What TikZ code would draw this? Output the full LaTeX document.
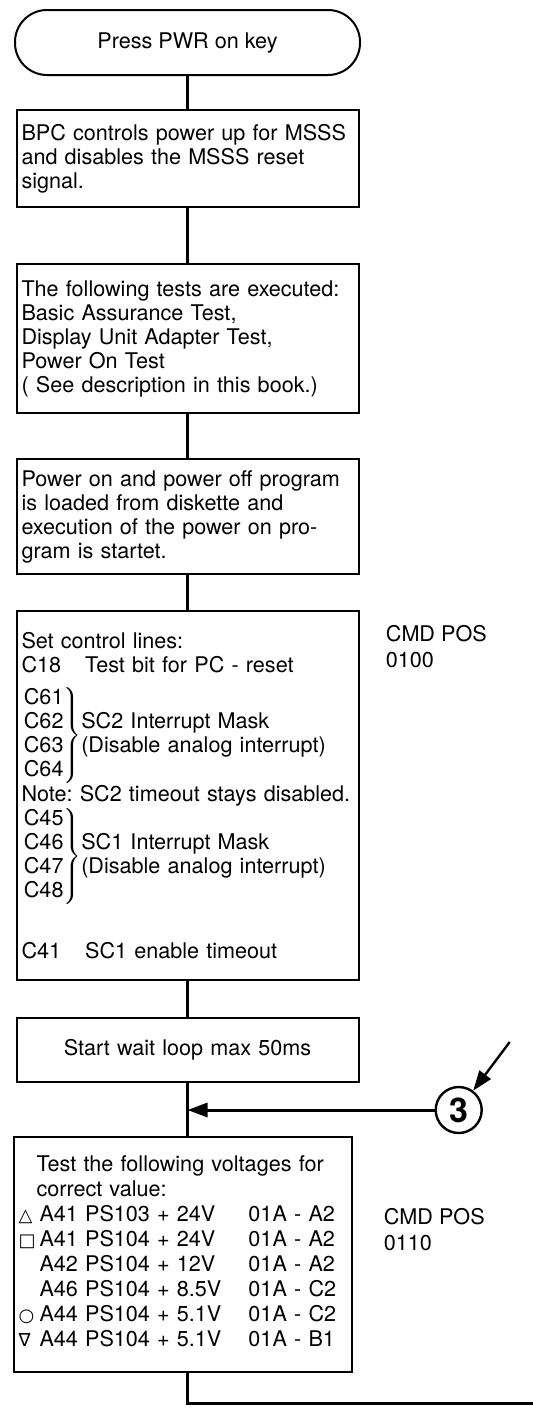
\documentclass[tikz,border=0pt]{standalone}
\usepackage{fontspec}
\setmainfont{TeX Gyre Heros}
\newfontfamily\symfont{DejaVu Sans}
\usetikzlibrary{arrows.meta,positioning,calc}
\newcommand{\sym}[1]{{\symfont\fontsize{9}{9}\selectfont #1}}
\newcommand{\ctlgroup}[2]{$\left.\begin{tabular}{@{}l@{}}#1\end{tabular}\right\}$\begin{tabular}{@{}l@{}}#2\end{tabular}}

\begin{document}
\begin{tikzpicture}[
    x=0.5pt,y=-0.5pt,
    flowbox/.style={draw,line width=1pt,text width=166pt,inner xsep=2.5pt,inner ysep=0pt,align=left,font=\fontsize{10.8}{12}\selectfont\frenchspacing},
    term/.style={draw,line width=1pt,rounded corners=16pt,minimum width=172.5pt,minimum height=32.5pt,font=\fontsize{10.8}{12}\selectfont},
    conn/.style={draw,circle,line width=1.2pt,minimum size=23pt,inner sep=0pt,font=\fontsize{17}{17}\selectfont\bfseries},
    cmdpos/.style={align=left,inner sep=0pt,font=\fontsize{10.8}{13}\selectfont},
    flow/.style={line width=1.5pt},
    arrow/.style={-{Triangle[length=10pt,width=7pt]},line width=1.5pt}
  ]
    \useasboundingbox (0,0) rectangle (533,1408);
    \node[term] (press) at (187.5,42.5) {Press PWR on key};
    \node[flowbox,minimum height=48.5pt,below=16.5pt of press] (bpc) {BPC controls power up for MSSS\\and disables the MSSS reset\\signal.};
    \node[flowbox,minimum height=74.5pt,below=27.5pt of bpc] (tests) {The following tests are executed:\\Basic Assurance Test,\\Display Unit Adapter Test,\\Power On Test\\( See description in this book.)};
    \node[flowbox,minimum height=57.5pt,below=22pt of tests] (load) {Power on and power off program\\is loaded from diskette and\\execution of the power on pro-\\gram is startet.};
    \node[flowbox,minimum height=184.5pt,below=17.5pt of load] (ctl) {Set control lines:\\
      C18\hspace{12pt}Test bit for PC - reset\\[6.5pt]
      \ctlgroup{C61\\C62\\C63\\C64}{SC2 Interrupt Mask\\(Disable analog interrupt)}\\
      \mbox{Note: SC2 timeout stays disabled.}\\
      \ctlgroup{C45\\C46\\C47\\C48}{SC1 Interrupt Mask\\(Disable analog interrupt)}\\[18pt]
      C41\hspace{12pt}SC1 enable timeout};
    \node[flowbox,minimum height=32pt,align=center,below=18pt of ctl] (wait) {Start wait loop max 50ms};
    \node[flowbox,text width=164pt,minimum height=117.5pt,below=26.5pt of wait,xshift=-2.5pt,font=\fontsize{10.8}{12.5}\selectfont] (volt) {\hspace*{9pt}Test the following voltages for\\
      \hspace*{9pt}correct value:\\
      \begin{tabular}[t]{@{}p{10.5pt}@{}p{104.5pt}@{}l@{}}
        \sym{△} & A41 PS103 + 24V & 01A - A2\\
        \sym{□} & A41 PS104 + 24V & 01A - A2\\
                & A42 PS104 + 12V & 01A - A2\\
                & A46 PS104 + 8.5V & 01A - C2\\
        \sym{○} & A44 PS104 + 5.1V & 01A - C2\\
        \sym{∇} & A44 PS104 + 5.1V & 01A - B1
      \end{tabular}};
    \node[cmdpos,anchor=north west] (pos1) at ($(ctl.north east)+(13pt,-7.5pt)$) {CMD POS\\0100};
    \node[cmdpos,anchor=north west] (pos2) at ($(volt.north east)+(15.5pt,-36pt)$) {CMD POS\\0110};
    % entry point 3 joins above the voltage test
    \coordinate[below=13.5pt of wait.south] (join);
    \node[conn,right=123.5pt of join] (c3) {3};
    \coordinate (ptr) at ($(c3)+(25.5pt,34pt)$);
    \coordinate (exit) at (533,1403);
    \draw[flow] (press) -- (bpc);
    \draw[flow] (bpc) -- (tests);
    \draw[flow] (tests) -- (load);
    \draw[flow] (load) -- (ctl);
    \draw[flow] (ctl) -- (wait);
    \draw[flow] (wait) -- (join) -- (join |- volt.north);
    \draw[arrow] (c3) -- (join);
    \draw[arrow,line width=1.2pt] (ptr) -- (c3);
    \draw[flow] (volt.south -| join) |- (exit);
  \end{tikzpicture}
\end{document}
